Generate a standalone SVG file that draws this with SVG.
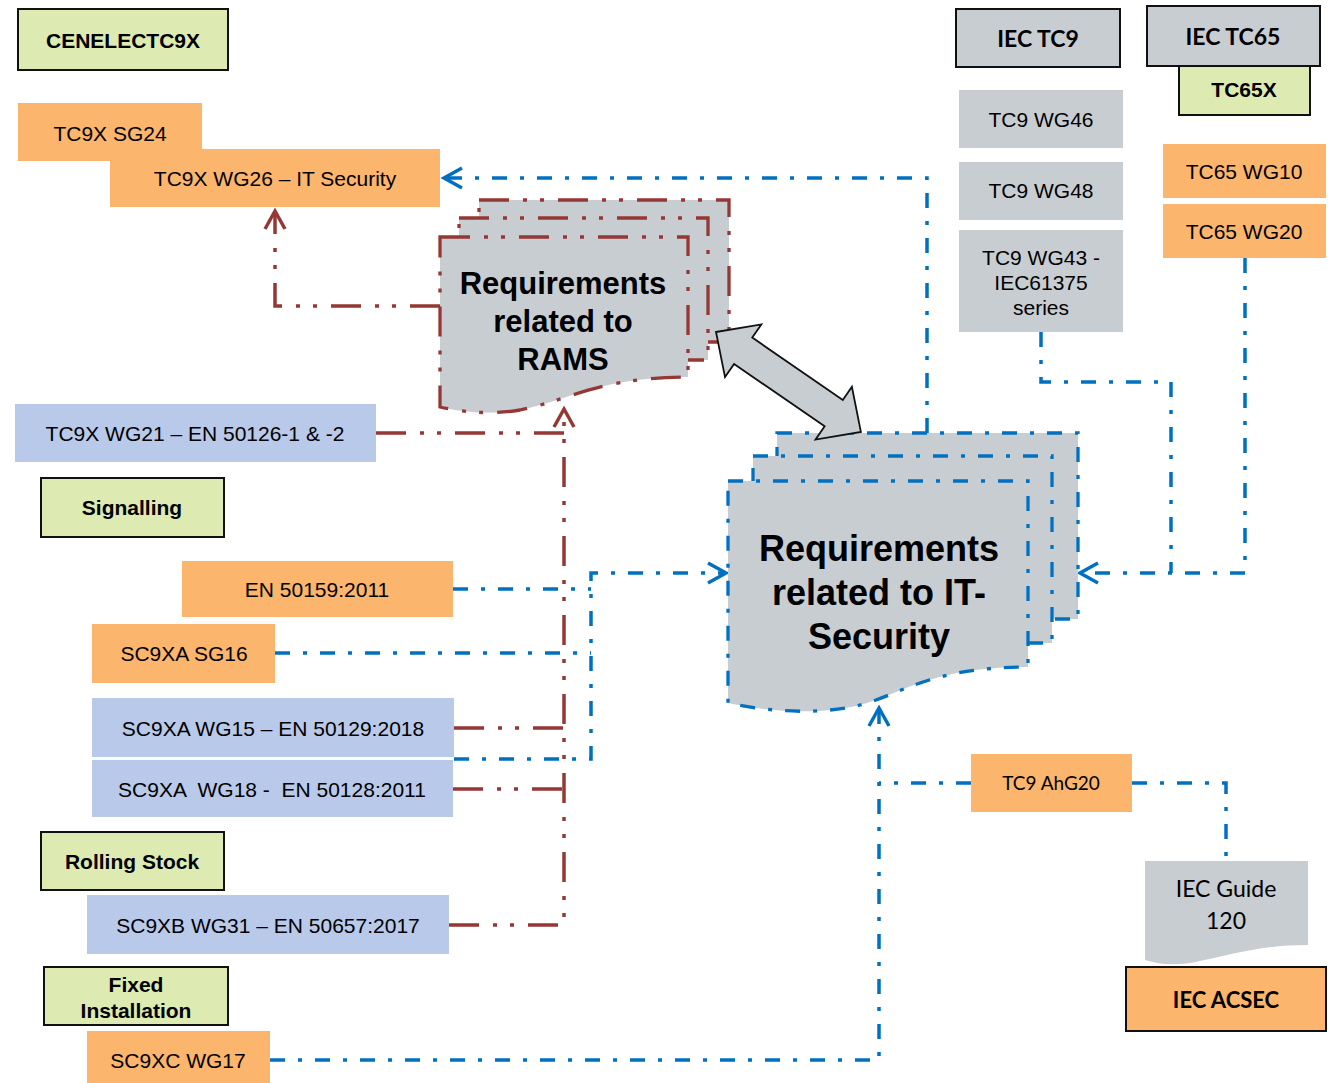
<svg xmlns="http://www.w3.org/2000/svg" width="1328" height="1083" viewBox="0 0 1328 1083">
<style>
.t{font-family:"Liberation Sans",Arial,sans-serif;font-size:21px;fill:#000;text-anchor:middle}
.b{font-weight:bold}
.c{font-family:Lato,"Liberation Sans",sans-serif;fill:#000;text-anchor:middle}
.or{fill:#FBB56C}
.gr{fill:#DDEBB2;stroke:#111;stroke-width:2}
.gy{fill:#C8CDD2}
.gyk{fill:#C8CDD2;stroke:#111;stroke-width:2}
.lv{fill:#B9C9EA}
.ork{fill:#FBB56C;stroke:#111;stroke-width:2}
.rd{fill:none;stroke:#953735;stroke-width:3.5;stroke-dasharray:30 14 4 13 4 14}
.bl{fill:none;stroke:#0070C0;stroke-width:3.5;stroke-dasharray:15 13 4 13}
.rdp{fill:#C8CDD2;stroke:#953735;stroke-width:3.3;stroke-dasharray:30 14 4 13 4 14}
.blp{fill:#C8CDD2;stroke:#0070C0;stroke-width:3.3;stroke-dasharray:15 13 4 13}
.dt{font-family:"Liberation Sans",Arial,sans-serif;font-weight:bold;fill:#000;text-anchor:middle}
</style>
<defs>
<marker id="ar" viewBox="-20 -12 24 24" markerWidth="24" markerHeight="24" markerUnits="userSpaceOnUse" refX="0" refY="0" orient="auto"><path d="M-18,-10 L0,0 L-18,10" fill="none" stroke="#953735" stroke-width="3.5"/></marker>
<marker id="ab" viewBox="-20 -12 24 24" markerWidth="24" markerHeight="24" markerUnits="userSpaceOnUse" refX="0" refY="0" orient="auto"><path d="M-18,-10 L0,0 L-18,10" fill="none" stroke="#0070C0" stroke-width="3.5"/></marker>
</defs>
<rect width="1328" height="1083" fill="#fff"/>

<g id="connectors">
<path class="rd" d="M440,306 H275 V211" marker-end="url(#ar)"/>
<path class="rd" d="M376,433 H564"/>
<path class="rd" d="M454,728 H564"/>
<path class="rd" d="M453,789 H564"/>
<path class="rd" d="M449,925 H564 V409" marker-end="url(#ar)"/>
<path class="bl" d="M927,433 V178 H444" marker-end="url(#ab)"/>
<path class="bl" d="M1041,332 V382 H1171 V573"/>
<path class="bl" d="M1245,258 V573 H1080" marker-end="url(#ab)"/>
<path class="bl" d="M453,589 H591"/>
<path class="bl" d="M275,653 H591"/>
<path class="bl" d="M454,759 H591 V573 H726" marker-end="url(#ab)"/>
<path class="bl" d="M270,1060 H879 V708" marker-end="url(#ab)"/>
<path class="bl" d="M971,783 H879"/>
<path class="bl" d="M1132,783 H1226 V861"/>
</g>

<g id="cenelec"><rect class="gr" x="18" y="9" width="210" height="61"/><text class="t b" x="123" y="48">CENELECTC9X</text></g>
<g id="sg24"><rect class="or" x="18" y="103" width="184" height="58"/><text class="t" x="110" y="140.5">TC9X SG24</text></g>
<g id="wg26"><rect class="or" x="110" y="149" width="330" height="58"/><text class="t" x="275" y="185.5">TC9X WG26 – IT Security</text></g>

<g id="rams">
<rect class="rdp" x="479" y="200" width="250" height="142"/>
<rect class="rdp" x="459" y="218" width="249" height="142"/>
<path class="rdp" d="M440,237 H688 V377 C600,377 570,400 520,410 C490,415 462,412 440,407 Z"/>
<text class="dt" font-size="31" x="563" y="294">Requirements</text>
<text class="dt" font-size="31" x="563" y="332">related to</text>
<text class="dt" font-size="31" x="563" y="370">RAMS</text>
</g>

<g id="itsec">
<rect class="blp" x="777" y="433" width="301" height="186"/>
<rect class="blp" x="753" y="456" width="299" height="187"/>
<path class="blp" d="M728,481 H1028 V667 C930,667 900,695 860,705 C820,715 770,712 728,703 Z"/>
<text class="dt" font-size="36" x="879" y="561">Requirements</text>
<text class="dt" font-size="36" x="879" y="605">related to IT-</text>
<text class="dt" font-size="36" x="879" y="649">Security</text>
</g>

<g id="double-arrow">
<polygon transform="translate(716,332) rotate(34.59)" points="0,0 33,-32 33,-16 143,-16 143,-32 176,0 143,32 143,16 33,16 33,32" fill="#C8CDD2" stroke="#111" stroke-width="1.8" stroke-linejoin="miter"/>
</g>

<g id="iectc9"><rect class="gyk" x="956" y="9" width="164" height="58"/><text class="c b" font-size="23" x="1038" y="47">IEC TC9</text></g>
<g id="iectc65"><rect class="gyk" x="1147" y="6" width="173" height="60"/><text class="c b" font-size="23" x="1233" y="45">IEC TC65</text></g>
<g id="tc65x"><rect class="gr" x="1179" y="66" width="131" height="49"/><text class="t b" x="1244" y="97">TC65X</text></g>
<g id="wg46"><rect class="gy" x="959" y="90" width="164" height="58"/><text class="t" x="1041" y="126.5">TC9 WG46</text></g>
<g id="wg48"><rect class="gy" x="959" y="162" width="164" height="58"/><text class="t" font-size="18" x="1041" y="197.5">TC9 WG48</text></g>
<g id="wg43"><rect class="gy" x="959" y="230" width="164" height="102"/>
<text class="t" x="1041" y="265">TC9 WG43 -</text>
<text class="t" x="1041" y="290">IEC61375</text>
<text class="t" x="1041" y="315">series</text></g>
<g id="tc65wg10"><rect class="or" x="1163" y="144" width="163" height="54"/><text class="t" x="1244" y="178.5">TC65 WG10</text></g>
<g id="tc65wg20"><rect class="or" x="1163" y="204" width="163" height="54"/><text class="t" x="1244" y="238.5">TC65 WG20</text></g>

<g id="wg21"><rect class="lv" x="15" y="404" width="361" height="58"/><text class="t" x="195" y="440.5">TC9X WG21 – EN 50126-1 &amp; -2</text></g>
<g id="signalling"><rect class="gr" x="41" y="478" width="183" height="59"/><text class="t b" x="132" y="515">Signalling</text></g>
<g id="en50159"><rect class="or" x="182" y="561" width="271" height="56"/><text class="t" x="317" y="596.5">EN 50159:2011</text></g>
<g id="sg16"><rect class="or" x="92" y="624" width="183" height="59"/><text class="t" x="184" y="660.5">SC9XA SG16</text></g>
<g id="wg15"><rect class="lv" x="92" y="698" width="362" height="59"/><text class="t" x="273" y="735.5">SC9XA WG15 – EN 50129:2018</text></g>
<g id="wg18"><rect class="lv" x="92" y="760" width="361" height="57"/><text class="t" x="272" y="796.5" xml:space="preserve">SC9XA  WG18 -  EN 50128:2011</text></g>
<g id="rolling"><rect class="gr" x="41" y="832" width="183" height="58"/><text class="t b" x="132" y="868.5">Rolling Stock</text></g>
<g id="wg31"><rect class="lv" x="87" y="895" width="362" height="59"/><text class="t" x="268" y="932.5">SC9XB WG31 – EN 50657:2017</text></g>
<g id="fixed"><rect class="gr" x="44" y="967" width="184" height="58"/>
<text class="t b" x="136" y="991.5">Fixed</text>
<text class="t b" x="136" y="1017.5">Installation</text></g>
<g id="wg17"><rect class="or" x="87" y="1031" width="183" height="52"/><text class="t" x="178" y="1067.5">SC9XC WG17</text></g>

<g id="ahg20"><rect class="or" x="971" y="754" width="161" height="58"/><text class="c" font-size="19" x="1051" y="790">TC9 AhG20</text></g>
<g id="guide120"><path class="gy" d="M1145,861 H1308 V945 C1260,945 1230,955 1200,961 C1180,966 1160,965 1145,960 Z"/>
<text class="c" font-size="23" x="1226" y="897">IEC Guide</text>
<text class="c" font-size="23" x="1226" y="929">120</text></g>
<g id="acsec"><rect class="ork" x="1126" y="967" width="200" height="64"/><text class="c b" font-size="22" x="1226" y="1008">IEC ACSEC</text></g>
</svg>
